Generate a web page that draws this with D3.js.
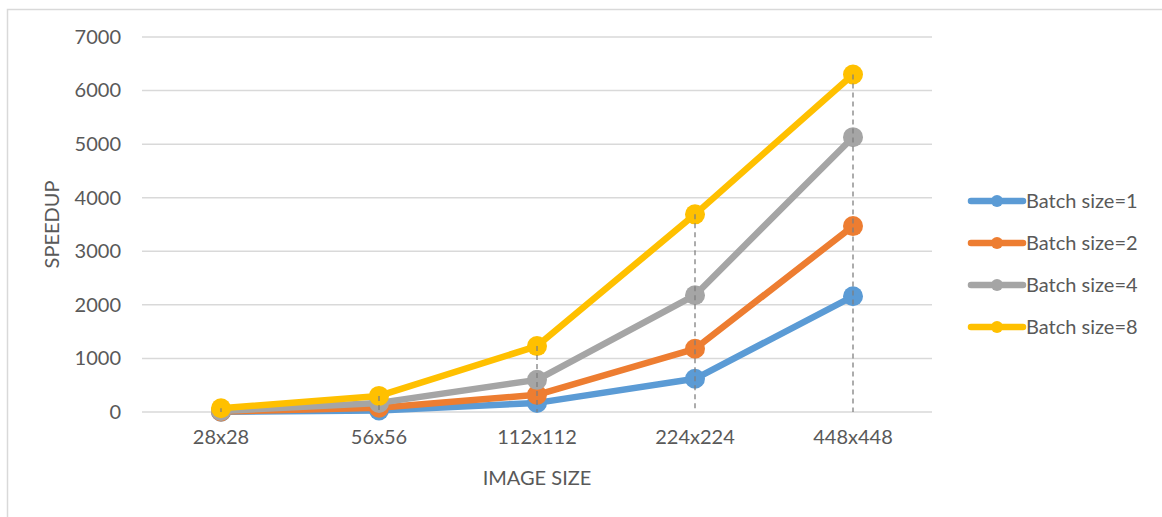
<!DOCTYPE html>
<html>
<head>
<meta charset="utf-8">
<script src="https://cdn.jsdelivr.net/npm/d3@7"></script>
<style>
  body { margin: 0; background: #fff; }
  text { font-family: Lato, "Open Sans", sans-serif; fill: #595959; }
</style>
</head>
<body>
<div id="chart"></div>
<script>
// values
var categories = ["28x28", "56x56", "112x112", "224x224", "448x448"];
var seriesNames = ["Batch size=1", "Batch size=2", "Batch size=4", "Batch size=8"];
var batch1 = [5, 30, 170, 620, 2160];
var batch2 = [10, 80, 320, 1180, 3470];
var batch4 = [20, 170, 600, 2180, 5130];
var batch8 = [70, 300, 1230, 3690, 6300];
var yTicks = [0, 1000, 2000, 3000, 4000, 5000, 6000, 7000];
var colors = ["#5b9bd5", "#ed7d31", "#a5a5a5", "#ffc000"];

var series = [batch1, batch2, batch4, batch8];

var width = 1162, height = 517;
var margin = {top: 37, right: 230, bottom: 105, left: 142};
var fs = 20;

var svg = d3.select("#chart").append("svg")
    .attr("width", width)
    .attr("height", height);

// chart border
svg.append("rect")
    .attr("x", 7.5).attr("y", 9.5)
    .attr("width", 1300).attr("height", 600)
    .attr("fill", "none")
    .attr("stroke", "#d9d9d9")
    .attr("stroke-width", 1.5);

var x = d3.scaleBand()
    .domain(categories)
    .range([margin.left, width - margin.right]);

var y = d3.scaleLinear()
    .domain([0, 7000])
    .range([height - margin.bottom, margin.top]);

// gridlines
svg.append("g")
    .selectAll("line")
    .data(yTicks)
    .enter().append("line")
    .attr("x1", margin.left)
    .attr("x2", width - margin.right)
    .attr("y1", function(d) { return y(d); })
    .attr("y2", function(d) { return y(d); })
    .attr("stroke", "#d9d9d9")
    .attr("stroke-width", 1.5);

// y axis labels
var yAxis = d3.axisLeft(y).tickValues(yTicks).tickFormat(d3.format("d")).tickSize(0).tickPadding(0);
var gy = svg.append("g")
    .attr("transform", "translate(121,0)")
    .call(yAxis);
gy.select(".domain").remove();
gy.selectAll("text")
    .attr("font-size", fs)
    .attr("fill", "#595959")
    .style("font-family", "Lato, 'Open Sans', sans-serif");

// x axis labels
var xAxis = d3.axisBottom(x).tickSize(0).tickPadding(0);
var gx = svg.append("g")
    .attr("transform", "translate(0," + (height - margin.bottom + 18) + ")")
    .call(xAxis);
gx.select(".domain").remove();
gx.selectAll("text")
    .attr("font-size", fs)
    .attr("fill", "#595959")
    .style("font-family", "Lato, 'Open Sans', sans-serif");

// axis titles
svg.append("text")
    .attr("x", x("112x112") + x.bandwidth() / 2)
    .attr("y", 485)
    .attr("text-anchor", "middle")
    .attr("font-size", fs)
    .text("IMAGE SIZE");

svg.append("text")
    .attr("transform", "translate(59," + ((margin.top + height - margin.bottom) / 2) + ") rotate(-90)")
    .attr("text-anchor", "middle")
    .attr("font-size", fs)
    .text("SPEEDUP");

var cx = function(i) { return x(categories[i]) + x.bandwidth() / 2; };

var line = d3.line()
    .x(function(d, i) { return cx(i); })
    .y(function(d) { return y(d); });

var groups = svg.append("g")
    .selectAll("g")
    .data(series)
    .enter().append("g");

groups.append("path")
    .attr("d", function(d) { return line(d); })
    .attr("fill", "none")
    .attr("stroke", function(d, i) { return colors[i]; })
    .attr("stroke-width", 6.5)
    .attr("stroke-linejoin", "round");

groups.selectAll("circle")
    .data(function(d, i) { return d.map(function(v) { return {v: v, c: colors[i]}; }); })
    .enter().append("circle")
    .attr("cx", function(d, i) { return cx(i); })
    .attr("cy", function(d) { return y(d.v); })
    .attr("r", 10)
    .attr("fill", function(d) { return d.c; });

// drop lines from highest point to axis, drawn on top of the markers
svg.append("g")
    .selectAll("line")
    .data(categories)
    .enter().append("line")
    .attr("x1", function(d, i) { return cx(i); })
    .attr("x2", function(d, i) { return cx(i); })
    .attr("y1", function(d, i) { return y(d3.max(series, function(s) { return s[i]; })); })
    .attr("y2", y(0))
    .attr("stroke", "#7f7f7f")
    .attr("stroke-width", 1.5)
    .attr("stroke-dasharray", "5,4")
    .attr("opacity", 0.85);

// legend
var legend = svg.append("g")
    .selectAll("g")
    .data(seriesNames)
    .enter().append("g")
    .attr("transform", function(d, i) { return "translate(969," + (201 + i * 42) + ")"; });

legend.append("line")
    .attr("x1", 2).attr("x2", 54)
    .attr("y1", 0).attr("y2", 0)
    .attr("stroke", function(d, i) { return colors[i]; })
    .attr("stroke-width", 6.5)
    .attr("stroke-linecap", "round");

legend.append("circle")
    .attr("cx", 28).attr("cy", 0).attr("r", 6)
    .attr("fill", function(d, i) { return colors[i]; });

legend.append("text")
    .attr("x", 57)
    .attr("y", 0)
    .attr("dy", "0.35em")
    .attr("font-size", fs)
    .text(function(d) { return d; });
</script>
</body>
</html>
